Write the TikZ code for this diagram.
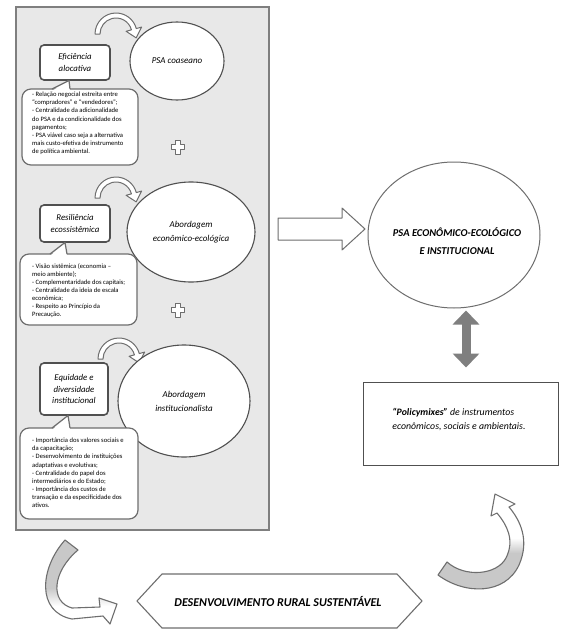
\documentclass[tikz,border=0pt]{standalone}
\usepackage{fontspec}
\setmainfont{Carlito}
\usetikzlibrary{shapes.geometric,arrows.meta}
\definecolor{edge}{HTML}{6E6E6E}
\definecolor{dark}{HTML}{505050}
\definecolor{panelfill}{HTML}{E8E8E8}
\definecolor{arrowgray}{HTML}{C8C8C8}
\definecolor{dbl}{HTML}{7F7F7F}
\tikzset{
  panel/.style={draw=dbl,line width=1.8pt,fill=panelfill},
  labelbox/.style={draw=dark,line width=1.6pt,fill=white,rounded corners=4pt,align=center,
    font=\fontsize{8.8}{11.8}\selectfont\itshape,inner sep=0pt},
  oval/.style={ellipse,draw=dark,line width=1.1pt,fill=white,inner sep=0pt},
  ovaltext/.style={align=center,font=\fontsize{9}{14}\selectfont\itshape,inner sep=0pt},
  callout/.style={draw=edge,line width=1.2pt,fill=white,rounded corners=9pt,inner sep=0pt},
  callouttext/.style={align=left,font=\fontsize{6.6}{8.1}\selectfont,inner sep=0pt,anchor=north west},
  openarrow/.style={draw=edge,line width=1pt,fill=white,line join=round},
  curvedge/.style={draw=edge,line width=1.1pt,line join=round},
  arcarrow/.pic={\draw[openarrow] (-21,0) arc[start angle=180,end angle=345,radius=21]
      -- (25.6,-6.9) -- (20.2,3.9) -- (10.1,-2.7) -- (15.45,-4.14)
      arc[start angle=345,end angle=180,radius=16] -- cycle;},
  plussign/.pic={\draw[openarrow] (-2.5,-7) -- (2.5,-7) -- (2.5,-2.5) -- (6.5,-2.5) -- (6.5,2.5)
      -- (2.5,2.5) -- (2.5,7) -- (-2.5,7) -- (-2.5,2.5) -- (-6.5,2.5) -- (-6.5,-2.5) -- (-2.5,-2.5) -- cycle;}
}
\begin{document}
\begin{tikzpicture}[x=1pt,y=-1pt]
\useasboundingbox (0,0) rectangle (571,637);
\fill[white] (0,0) rectangle (571,637);

% panel
\node[panel,minimum width=253pt,minimum height=523pt,inner sep=0pt] (panel) at (142.5,268.5) {};

% section 1
\pic at (116,34) {arcarrow};
\node[oval,minimum width=94pt,minimum height=78pt] (e1) at (177,61) {};
\node[ovaltext] (e1t) at (e1.center) {PSA coaseano};
\node[labelbox,minimum width=70pt,minimum height=35pt] (b1) at (75,62.5) {Eficiência\\alocativa};
\node[callout,minimum width=116pt,minimum height=76pt] (c1) at (80,127) {};
\fill[white] (52,91) -- (69,80) -- (70,91) -- cycle;
\draw[edge,line width=1.2pt,line join=round] (52,89) -- (69,80.5) -- (70,89);
\node[callouttext] (c1t) at (32,92) {- Relação negocial estreita entre\\“compradores” e “vendedores”;\\- Centralidade da adicionalidade\\do PSA e da condicionalidade dos\\pagamentos;\\- PSA viável caso seja a alternativa\\mais custo-efetiva de instrumento\\de política ambiental.};
\pic at (178,147) {plussign};

% section 2
\pic at (116,198) {arcarrow};
\node[oval,minimum width=128pt,minimum height=100pt] (e2) at (191,232) {};
\node[ovaltext] (e2t) at (e2.center) {Abordagem\\econômico-ecológica};
\node[labelbox,minimum width=70pt,minimum height=37pt] (b2) at (75,223.5) {Resiliência\\ecossistêmica};
\node[callout,minimum width=117pt,minimum height=71pt] (c2) at (78.5,289.5) {};
\fill[white] (50,256) -- (65,242.5) -- (67,256) -- cycle;
\draw[edge,line width=1.2pt,line join=round] (50,254) -- (65,242.5) -- (67,254);
\node[callouttext] (c2t) at (32,263) {- Visão sistêmica (economia –\\meio ambiente);\\- Complementaridade dos capitais;\\- Centralidade da ideia de escala\\econômica;\\- Respeito ao Princípio da\\Precaução.};
\pic at (178,310) {plussign};

% section 3
\pic at (119,359) {arcarrow};
\node[oval,minimum width=132pt,minimum height=112pt] (e3) at (184,401) {};
\node[ovaltext] (e3t) at (e3.center) {Abordagem\\institucionalista};
\node[labelbox,minimum width=68pt,minimum height=52pt] (b3) at (74,389) {Equidade e\\diversidade\\institucional};
\node[callout,minimum width=118pt,minimum height=91pt] (c3) at (79,473.5) {};
\fill[white] (52,430) -- (68,415.5) -- (70,430) -- cycle;
\draw[edge,line width=1.2pt,line join=round] (52,428) -- (68,415.5) -- (70,428);
\node[callouttext] (c3t) at (32,438) {- Importância dos valores sociais e\\da capacitação;\\- Desenvolvimento de instituições\\adaptativas e evolutivas;\\- Centralidade do papel dos\\intermediários e do Estado;\\- Importância dos custos de\\transação e da especificidade dos\\ativos.};

% big open arrow
\draw[openarrow] (278,218) -- (342,218) -- (342,208) -- (365,229) -- (342,250) -- (342,240) -- (278,240) -- cycle;

% big ellipse
\node[oval,line width=1pt,draw=edge,minimum width=172pt,minimum height=146pt] (big) at (454,235) {};
\node[align=center,font=\fontsize{10.5}{18}\selectfont\bfseries\itshape,inner sep=0pt] (bigt) at (457,241) {PSA ECONÔMICO-ECOLÓGICO\\E INSTITUCIONAL};

% policy box
\node[draw=dark,line width=1pt,fill=white,minimum width=195pt,minimum height=83pt,inner sep=0pt] (policy) at (460.5,423.5) {};
\node[align=left,font=\fontsize{9.8}{14}\selectfont\itshape,inner sep=0pt] (policyt) at (459,420) {\textbf{“Policymixes”} de instrumentos\\econômicos, sociais e ambientais.};

% double arrow
\draw[dbl,line width=9pt,{Triangle[width=26pt,length=14pt]}-{Triangle[width=26pt,length=14pt]}]
  ([xshift=12pt,yshift=-2pt]big.south) -- ([xshift=5.5pt,yshift=14pt]policy.north);

% hexagon
\draw[curvedge,fill=white] (137,601) -- (162,574) -- (397,574) -- (422,601) -- (397,628) -- (162,628) -- cycle;
\node[font=\fontsize{12}{14}\selectfont\bfseries\itshape,inner sep=0pt] (dev) at (278,601) {DESENVOLVIMENTO RURAL SUSTENTÁVEL};

% left curved arrow
\def\larrow{(65,540) .. controls (40,568) and (36,612) .. (72,619) -- (103,616) -- (110,624) -- (117,604) -- (99,598) -- (100,607) -- (72,608) .. controls (50,602) and (52,572) .. (78,550) -- cycle}
\fill[white] \larrow;
\begin{scope}
\clip \larrow;
\fill[arrowgray] (0,530) rectangle (130,588);
\shade[top color=arrowgray,bottom color=white] (0,588) rectangle (130,606);
\end{scope}
\draw[curvedge] \larrow;

% right curved arrow
\def\rarrow{(438,575) .. controls (465,595) and (505,595) .. (519,565) .. controls (530,540) and (520,520) .. (509,507) -- (515,504) -- (495,494) -- (491,516) -- (497,513) .. controls (507,525) and (515,540) .. (506,558) .. controls (497,575) and (465,578) .. (447,562) -- cycle}
\fill[white] \rarrow;
\begin{scope}
\clip \rarrow;
\shade[top color=white,bottom color=arrowgray] (420,538) rectangle (540,553);
\fill[arrowgray] (420,553) rectangle (540,610);
\end{scope}
\draw[curvedge] \rarrow;
\end{tikzpicture}
\end{document}
